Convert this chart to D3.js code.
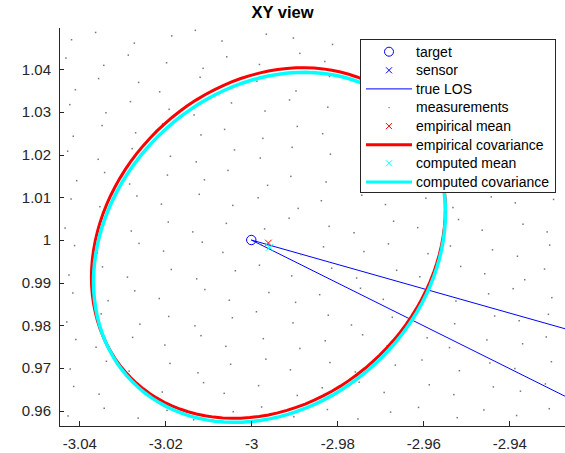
<!DOCTYPE html>
<html>
<head>
<meta charset="utf-8">
<script src="https://cdn.jsdelivr.net/npm/d3@7"></script>
<style>
  body { margin: 0; background: #fff; }
  svg { display: block; font-family: "Liberation Sans", Arial, Helvetica, sans-serif; }
</style>
</head>
<body>
<div id="chart"></div>
<script>
// chart values
const xTicks = [-3.04, -3.02, -3, -2.98, -2.96, -2.94];
const xTickLabels = ["-3.04", "-3.02", "-3", "-2.98", "-2.96", "-2.94"];
const yTicks = [0.96, 0.97, 0.98, 0.99, 1, 1.01, 1.02, 1.03, 1.04];
const yTickLabels = ["0.96", "0.97", "0.98", "0.99", "1", "1.01", "1.02", "1.03", "1.04"];

const target = [-3, 1];
const losEnds = [[-2.90, 0.97152], [-2.90, 0.94986]];   // true LOS lines leave the target
const empiricalMean = [-2.99602, 0.99930];
const computedMean = [-2.99577, 0.99829];
// ellipse shape matrices (as drawn)
const empiricalCov = [[1.6944e-3, 3.303e-4], [3.303e-4, 1.6854e-3]];
const computedCov = [[1.6753e-3, 3.303e-4], [3.303e-4, 1.6797e-3]];

// measurement cloud, estimated positions
const measurements = [
  [-3.0418,1.0469],[-3.0362,1.0486],[-3.0272,1.0461],[-3.0185,1.0478],[-3.0130,1.0491],[-3.0068,1.0466],[-2.9965,1.0482],[-2.9902,1.0473],[-2.9811,1.0458],
  [-3.0431,1.0426],[-3.0343,1.0409],[-3.0286,1.0433],[-3.0197,1.0415],[-3.0112,1.0402],[-3.0057,1.0429],[-2.9981,1.0411],[-2.9887,1.0437],[-2.9829,1.0418],
  [-3.0409,1.0352],[-3.0355,1.0378],[-3.0262,1.0369],[-3.0213,1.0347],[-3.0119,1.0381],[-3.0041,1.0358],[-2.9987,1.0372],[-2.9896,1.0349],[-2.9818,1.0383],
  [-3.0422,1.0317],[-3.0338,1.0298],[-3.0281,1.0324],[-3.0191,1.0306],[-3.0133,1.0293],[-3.0046,1.0321],[-2.9968,1.0302],[-2.9911,1.0328],[-2.9822,1.0311],
  [-3.0414,1.0243],[-3.0347,1.0268],[-3.0269,1.0251],[-3.0206,1.0272],[-3.0117,1.0246],[-3.0062,1.0259],[-2.9973,1.0238],[-2.9893,1.0266],[-2.9834,1.0249],
  [-3.0427,1.0208],[-3.0356,1.0189],[-3.0277,1.0214],[-3.0188,1.0196],[-3.0128,1.0183],[-3.0039,1.0211],[-2.9979,1.0192],[-2.9905,1.0217],[-2.9816,1.0201],
  [-3.0406,1.0139],[-3.0341,1.0158],[-3.0283,1.0131],[-3.0195,1.0152],[-3.0109,1.0141],[-3.0054,1.0163],[-2.9962,1.0128],[-2.9908,1.0149],[-2.9826,1.0136],
  [-3.0419,1.0096],[-3.0352,1.0078],[-3.0266,1.0103],[-3.0209,1.0084],[-3.0121,1.0107],[-3.0043,1.0081],[-2.9984,1.0099],[-2.9891,1.0074],[-2.9837,1.0092],[-2.9743,1.0105],[-2.9688,1.0083],[-2.9594,1.0098],[-2.9531,1.0076],[-2.9442,1.0101],[-2.9386,1.0087],[-2.9297,1.0095],
  [-3.0433,1.0028],[-3.0339,1.0047],[-3.0279,1.0021],[-3.0193,1.0042],[-3.0136,1.0019],[-3.0058,1.0039],[-2.9969,1.0026],[-2.9912,1.0051],[-2.9819,1.0032],[-2.9761,1.0017],[-2.9669,1.0044],[-2.9613,1.0029],[-2.9518,1.0048],[-2.9463,1.0023],[-2.9368,1.0037],[-2.9312,1.0019],
  [-3.0411,0.9987],[-3.0358,0.9969],[-3.0261,0.9992],[-3.0204,0.9974],[-3.0114,0.9995],[-3.0066,0.9971],[-2.9977,0.9989],[-2.9884,0.9966],[-2.9832,0.9984],[-2.9738,0.9973],[-2.9681,0.9991],[-2.9589,0.9968],[-2.9537,0.9986],[-2.9439,0.9977],[-2.9381,0.9962],[-2.9306,0.9988],
  [-3.0424,0.9918],[-3.0346,0.9937],[-3.0288,0.9913],[-3.0186,0.9931],[-3.0127,0.9909],[-3.0037,0.9928],[-2.9981,0.9941],[-2.9906,0.9916],[-2.9813,0.9934],[-2.9755,0.9911],[-2.9662,0.9929],[-2.9608,0.9914],[-2.9513,0.9938],[-2.9457,0.9921],[-2.9364,0.9907],[-2.9318,0.9932],
  [-3.0415,0.9876],[-3.0333,0.9858],[-3.0271,0.9881],[-3.0214,0.9863],[-3.0108,0.9884],[-3.0051,0.9859],[-2.9959,0.9877],[-2.9897,0.9854],[-2.9841,0.9872],[-2.9746,0.9887],[-2.9693,0.9861],[-2.9597,0.9879],[-2.9524,0.9857],[-2.9448,0.9874],[-2.9391,0.9886],[-2.9301,0.9865],
  [-3.0429,0.9808],[-3.0349,0.9827],[-3.0259,0.9803],[-3.0192,0.9821],[-3.0131,0.9799],[-3.0044,0.9818],[-2.9988,0.9832],[-2.9903,0.9806],[-2.9821,0.9824],[-2.9767,0.9801],[-2.9672,0.9819],[-2.9616,0.9829],[-2.9527,0.9804],[-2.9434,0.9822],[-2.9377,0.9811],[-2.9309,0.9826],
  [-3.0408,0.9767],[-3.0361,0.9749],[-3.0276,0.9772],[-3.0201,0.9754],[-3.0117,0.9776],[-3.0059,0.9751],[-2.9972,0.9769],[-2.9887,0.9746],[-2.9828,0.9764],[-2.9741,0.9778],[-2.9684,0.9752],[-2.9591,0.9771],[-2.9539,0.9748],[-2.9452,0.9766],[-2.9369,0.9757],[-2.9314,0.9773],
  [-3.0421,0.9698],[-3.0337,0.9716],[-3.0284,0.9693],[-3.0189,0.9711],[-3.0124,0.9689],[-3.0048,0.9709],[-2.9966,0.9721],[-2.9909,0.9696],[-2.9817,0.9713],[-2.9758,0.9691],[-2.9665,0.9707],[-2.9603,0.9719],[-2.9516,0.9694],[-2.9445,0.9712],[-2.9387,0.9699],[-2.9302,0.9715],
  [-3.0413,0.9657],[-3.0354,0.9639],[-3.0268,0.9662],[-3.0207,0.9644],[-3.0111,0.9666],[-3.0063,0.9641],[-2.9983,0.9659],[-2.9893,0.9636],[-2.9835,0.9654],[-2.9749,0.9667],[-2.9691,0.9643],[-2.9586,0.9661],[-2.9529,0.9638],[-2.9437,0.9656],[-2.9374,0.9646],[-2.9316,0.9663],
  [-3.0426,0.9588],[-3.0342,0.9606],[-3.0263,0.9583],[-3.0196,0.9601],[-3.0134,0.9579],[-3.0042,0.9598],[-2.9976,0.9609],[-2.9901,0.9586],[-2.9823,0.9603],[-2.9752,0.9581],[-2.9676,0.9597],[-2.9611,0.9608],[-2.9521,0.9584],[-2.9459,0.9602],[-2.9383,0.9589],[-2.9307,0.9605]
];

const legendItems = [
  { label: "target", kind: "circle", color: "#0000ff" },
  { label: "sensor", kind: "x", color: "#0000ff" },
  { label: "true LOS", kind: "line", color: "#0000ff", width: 1 },
  { label: "measurements", kind: "dot", color: "#777" },
  { label: "empirical mean", kind: "x", color: "#ff0000" },
  { label: "empirical covariance", kind: "line", color: "#ff0000", width: 3 },
  { label: "computed mean", kind: "x", color: "#00ffff" },
  { label: "computed covariance", kind: "line", color: "#00ffff", width: 3 }
];

const width = 565, height = 453;
const plotLeft = 59.5, plotRight = 565, plotTop = 27, plotBottom = 426.5;
const axisColor = "#262626";

const svg = d3.select("#chart").append("svg")
  .attr("width", width)
  .attr("height", height);

const x = d3.scaleLinear().domain([-3.0446, -2.92704]).range([plotLeft, plotRight]);
const y = d3.scaleLinear().domain([0.95633, 1.04988]).range([plotBottom, plotTop]);

svg.append("defs").append("clipPath").attr("id", "plotclip")
  .append("rect")
  .attr("x", plotLeft).attr("y", plotTop)
  .attr("width", plotRight - plotLeft).attr("height", plotBottom - plotTop);

const plot = svg.append("g").attr("clip-path", "url(#plotclip)");

// x marker helper
function xMark(g, cx, cy, s, color) {
  g.append("path")
    .attr("d", `M${cx - s},${cy - s}L${cx + s},${cy + s}M${cx - s},${cy + s}L${cx + s},${cy - s}`)
    .attr("stroke", color)
    .attr("stroke-width", 1)
    .attr("fill", "none");
}

// ellipse from a 2x2 shape matrix (cholesky factor)
function ellipsePoints(mean, m) {
  const a = Math.sqrt(m[0][0]);
  const b = m[0][1] / a;
  const c = Math.sqrt(m[1][1] - b * b);
  return d3.range(0, 121).map(i => {
    const t = i / 120 * 2 * Math.PI;
    const u = Math.cos(t), v = Math.sin(t);
    return [mean[0] + a * u, mean[1] + b * u + c * v];
  });
}

const line = d3.line().x(d => x(d[0])).y(d => y(d[1]));

// target
plot.append("circle")
  .attr("cx", x(target[0])).attr("cy", y(target[1]))
  .attr("r", 4.7)
  .attr("fill", "none")
  .attr("stroke", "#0000ff")
  .attr("stroke-width", 1);

// true LOS
plot.selectAll(".los")
  .data(losEnds)
  .enter()
  .append("path")
  .attr("class", "los")
  .attr("d", d => line([target, d]))
  .attr("stroke", "#0000ff")
  .attr("stroke-width", 1)
  .attr("fill", "none");

// measurements
plot.selectAll(".meas")
  .data(measurements)
  .enter()
  .append("rect")
  .attr("class", "meas")
  .attr("x", d => x(d[0]) - 0.75)
  .attr("y", d => y(d[1]) - 0.75)
  .attr("width", 1.5)
  .attr("height", 1.5)
  .attr("fill", "#777");

// empirical
xMark(plot, x(empiricalMean[0]), y(empiricalMean[1]), 3.3, "#ff0000");
plot.append("path")
  .attr("d", line(ellipsePoints(empiricalMean, empiricalCov)))
  .attr("stroke", "#ff0000")
  .attr("stroke-width", 3)
  .attr("fill", "none");

// computed
xMark(plot, x(computedMean[0]), y(computedMean[1]), 3.3, "#00ffff");
plot.append("path")
  .attr("d", line(ellipsePoints(computedMean, computedCov)))
  .attr("stroke", "#00ffff")
  .attr("stroke-width", 3.5)
  .attr("fill", "none");

// axes
const yAxis = svg.append("g")
  .attr("transform", `translate(${plotLeft - 0.5},0)`)
  .call(d3.axisLeft(y).tickValues(yTicks).tickFormat((d, i) => yTickLabels[i])
    .tickSizeInner(-5).tickSizeOuter(0).tickPadding(8));

const xAxis = svg.append("g")
  .attr("transform", `translate(0,${plotBottom - 0.5})`)
  .call(d3.axisBottom(x).tickValues(xTicks).tickFormat((d, i) => xTickLabels[i])
    .tickSizeInner(-5).tickSizeOuter(0).tickPadding(12));

[xAxis, yAxis].forEach(ax => {
  ax.selectAll("path, line").attr("stroke", axisColor).attr("shape-rendering", "crispEdges");
  ax.selectAll("text")
    .attr("fill", axisColor)
    .style("font-family", '"Liberation Sans", Arial, sans-serif')
    .style("font-size", "15px");
});

// title
svg.append("text")
  .attr("x", 282.5)
  .attr("y", 18)
  .attr("text-anchor", "middle")
  .attr("font-weight", "bold")
  .attr("font-size", "16.5px")
  .attr("fill", "#000")
  .text("XY view");

// legend
const legend = svg.append("g");
legend.append("rect")
  .attr("x", 360.5).attr("y", 39.5)
  .attr("width", 194.5).attr("height", 153)
  .attr("fill", "#fff")
  .attr("stroke", axisColor)
  .attr("stroke-width", 1)
  .attr("shape-rendering", "crispEdges");

const rowY = i => 51.7 + i * 18.6;
legendItems.forEach((item, i) => {
  const cy = rowY(i);
  if (item.kind === "circle") {
    legend.append("circle").attr("cx", 389).attr("cy", cy).attr("r", 4.5)
      .attr("fill", "none").attr("stroke", item.color).attr("stroke-width", 1);
  } else if (item.kind === "x") {
    xMark(legend, 389, cy, 3, item.color);
  } else if (item.kind === "line") {
    legend.append("line").attr("x1", 366).attr("x2", 412).attr("y1", cy).attr("y2", cy)
      .attr("stroke", item.color).attr("stroke-width", item.width);
  } else if (item.kind === "dot") {
    legend.append("rect").attr("x", 388.5).attr("y", cy - 0.5).attr("width", 1.2).attr("height", 1.2)
      .attr("fill", item.color);
  }
  legend.append("text")
    .attr("x", 416)
    .attr("y", cy)
    .attr("dy", "0.35em")
    .attr("font-size", "14px")
    .attr("fill", "#000")
    .text(item.label);
});
</script>
</body>
</html>
